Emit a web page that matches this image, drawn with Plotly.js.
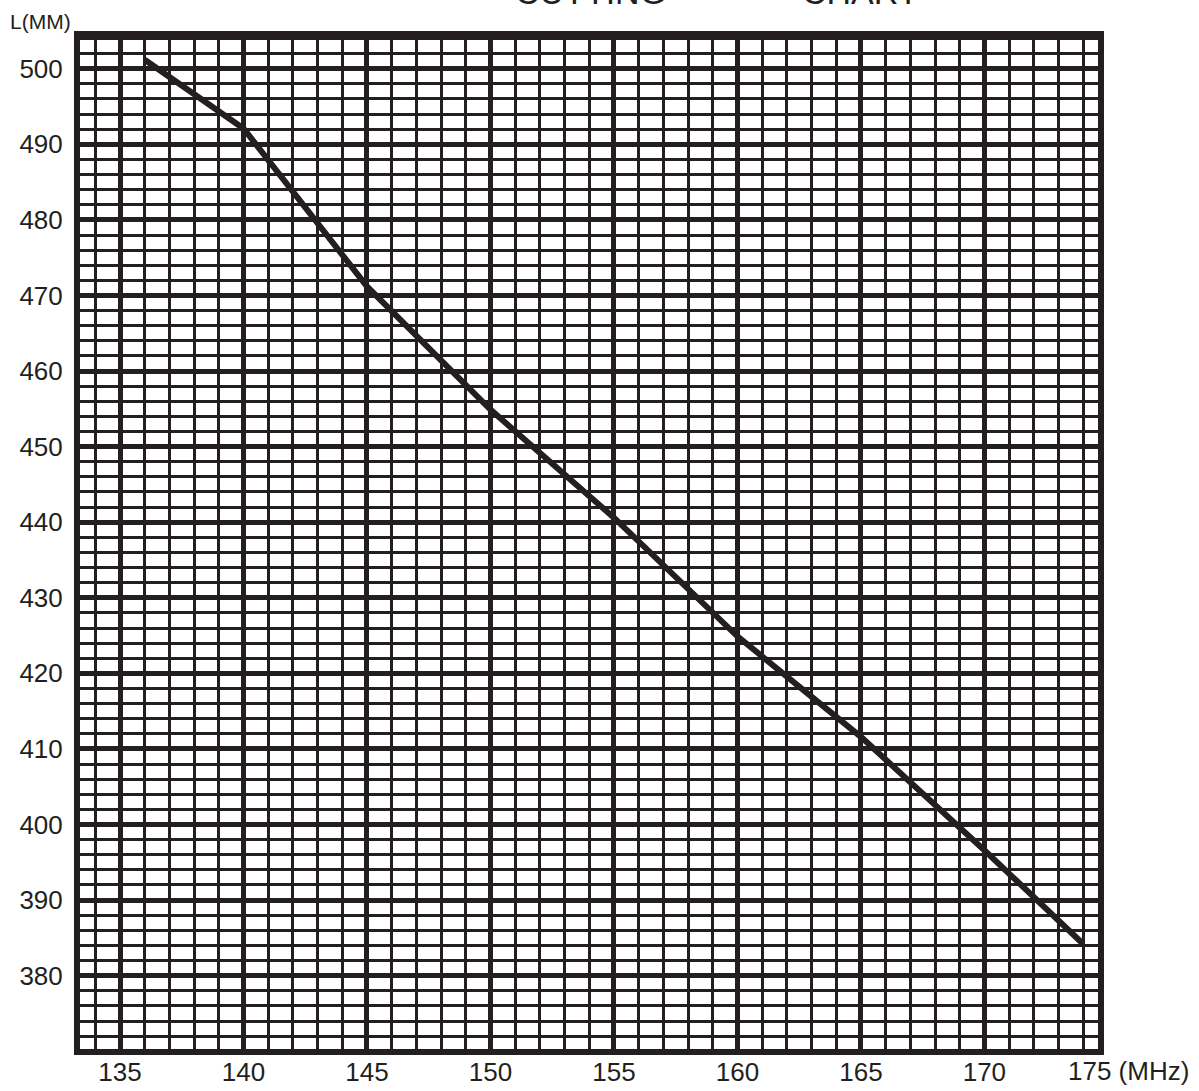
<!DOCTYPE html>
<html>
<head>
<meta charset="utf-8">
<script src="https://cdn.plot.ly/plotly-3.0.1.min.js"></script>
<style>html,body{margin:0;padding:0;background:#fff;}#chart{width:1199px;height:1091px;}</style>
</head>
<body>
<div id="chart"></div>
<script>
// Frequency (MHz) vs cutting length L (mm)
const freqMHz = [136, 140, 145, 150, 155, 160, 165, 170, 174];
const lengthMM = [501.2, 492.1, 471.2, 454.9, 440.6, 424.9, 411.6, 396.6, 384.2];
const xTickVals = [135, 140, 145, 150, 155, 160, 165, 170];
const xTickText = ['135', '140', '145', '150', '155', '160', '165', '170'];
const yTickVals = [380, 390, 400, 410, 420, 430, 440, 450, 460, 470, 480, 490, 500];
const yTickText = ['380', '390', '400', '410', '420', '430', '440', '450', '460', '470', '480', '490', '500'];
const xRange = [133.38, 174.6];
const yRange = [370.3, 504.2];
const lastFreqLabel = 175;

const ink = '#231f20';
const font = 'Liberation Sans, Arial, sans-serif';

const trace = {
  x: freqMHz, y: lengthMM, type: 'scatter', mode: 'lines',
  line: {color: ink, width: 6}, hoverinfo: 'x+y', showlegend: false
};

const fracX = (lastFreqLabel - xRange[0]) / (xRange[1] - xRange[0]);

const layout = {
  width: 1199, height: 1091,
  margin: {l: 80, r: 101, t: 37, b: 42, pad: 0},
  paper_bgcolor: '#ffffff', plot_bgcolor: '#ffffff',
  showlegend: false,
  xaxis: {
    range: xRange, tickmode: 'array', tickvals: xTickVals, ticktext: xTickText,
    showgrid: true, gridcolor: ink, gridwidth: 5,
    minor: {dtick: 1, tick0: 135, showgrid: true, gridcolor: ink, gridwidth: 3},
    showline: true, linecolor: ink, linewidth: 6, mirror: true,
    zeroline: false, ticks: '',
    tickfont: {family: font, size: 26, color: ink},
    ticklabelstandoff: -5
  },
  yaxis: {
    range: yRange, tickmode: 'array', tickvals: yTickVals, ticktext: yTickText,
    showgrid: true, gridcolor: ink, gridwidth: 5,
    minor: {dtick: 2, tick0: 380, showgrid: true, gridcolor: ink, gridwidth: 3},
    showline: true, linecolor: ink, linewidth: 6, mirror: true,
    zeroline: false, ticks: '',
    tickfont: {family: font, size: 26, color: ink},
    ticklabelstandoff: 6
  },
  annotations: [
    {text: 'L(MM)', xref: 'paper', yref: 'paper', x: -0.0707, y: 1.0153,
     xanchor: 'left', yanchor: 'middle', showarrow: false,
     font: {family: font, size: 21, color: ink}},
    {text: '175 (MHz)', xref: 'paper', yref: 'paper', x: fracX, y: -0.0222,
     xanchor: 'left', yanchor: 'middle', xshift: -42, showarrow: false,
     font: {family: font, size: 26, color: ink}},
    {text: 'CUTTING', xref: 'paper', yref: 'paper', x: 0.425, y: 1.0237,
     xanchor: 'left', yanchor: 'bottom', showarrow: false,
     font: {family: font, size: 34, color: ink}},
    {text: 'CHART', xref: 'paper', yref: 'paper', x: 0.707, y: 1.0237,
     xanchor: 'left', yanchor: 'bottom', showarrow: false,
     font: {family: font, size: 34, color: ink}}
  ]
};

Plotly.newPlot('chart', [trace], layout, {displayModeBar: false, staticPlot: true});
</script>
</body>
</html>
